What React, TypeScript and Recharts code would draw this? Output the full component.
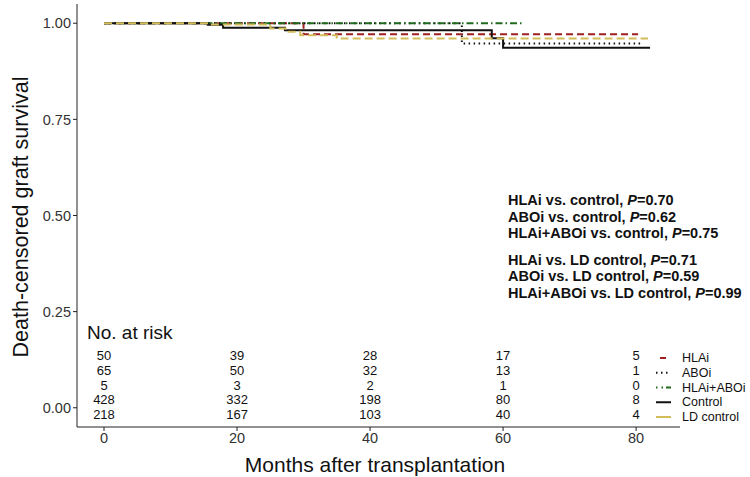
import React from "react";
import { ComposedChart, Line, Scatter, XAxis, YAxis } from "recharts";

// survival curves (months, survival probability)
const hlaiMonths = [0, 30, 80.3];
const hlaiSurv = [1, 0.9715, 0.9715];
const aboiMonths = [0, 53.8, 81];
const aboiSurv = [1, 0.947, 0.947];
const comboMonths = [0, 63];
const comboSurv = [1, 1];
const controlMonths = [0, 15.6, 17.9, 27.2, 58.3, 60, 82.1];
const controlSurv = [1, 0.996, 0.988, 0.982, 0.961, 0.936, 0.936];
const ldMonths = [0, 15.8, 25, 27.3, 29.5, 35, 81.8];
const ldSurv = [1, 0.997, 0.986, 0.978, 0.969, 0.96, 0.96];

// number at risk table
const riskTimes = [0, 20, 40, 60, 80];
const riskHlai = [50, 39, 28, 17, 5];
const riskAboi = [65, 50, 32, 13, 1];
const riskCombo = [5, 3, 2, 1, 0];
const riskControl = [428, 332, 198, 80, 8];
const riskLd = [218, 167, 103, 40, 4];
const riskRowY = [0.135, 0.096, 0.057, 0.021, -0.018];

const yTicks = [0, 0.25, 0.5, 0.75, 1];
const xTicks = [0, 20, 40, 60, 80];

const pValues = [
  ["HLAi vs. control, ", "0.70"],
  ["ABOi vs. control, ", "0.62"],
  ["HLAi+ABOi vs. control, ", "0.75"],
  ["HLAi vs. LD control, ", "0.71"],
  ["ABOi vs. LD control, ", "0.59"],
  ["HLAi+ABOi vs. LD control, ", "0.99"],
];

const series = [
  { name: "HLAi", months: hlaiMonths, surv: hlaiSurv, color: "#9e1f1f", dash: "7 4", key: "0 4 6 10" },
  { name: "ABOi", months: aboiMonths, surv: aboiSurv, color: "#111111", dash: "1.5 3.5", key: "1.5 3.5" },
  { name: "HLAi+ABOi", months: comboMonths, surv: comboSurv, color: "#1e6b1e", dash: "7 3 1.5 3", key: "1.5 4 1.5 3 8 0" },
  { name: "Control", months: controlMonths, surv: controlSurv, color: "#111111", dash: undefined, key: undefined },
  { name: "LD control", months: ldMonths, surv: ldSurv, color: "#d2bd5a", dash: "8 4", key: undefined },
];

const toPoints = (m: number[], s: number[]) => m.map((x, i) => ({ x, y: s[i] }));

const riskRows = [riskHlai, riskAboi, riskCombo, riskControl, riskLd];
const riskData = riskRows.flatMap((row, r) =>
  row.map((n, i) => ({ x: riskTimes[i], y: riskRowY[r], n }))
);

const FONT = "'Liberation Sans', Arial, sans-serif";

const RiskLabel = (props: any) => {
  const { cx, cy, payload } = props;
  return (
    <text x={cx} y={cy} textAnchor="middle" dominantBaseline="central" fontSize={13} fontFamily={FONT} fill="#111">
      {payload.n}
    </text>
  );
};

export default function App() {
  return (
    <div style={{ position: "relative", width: 750, height: 477, background: "#fff", fontFamily: FONT }}>
      <style>{`body{margin:0}`}</style>
      <ComposedChart width={750} height={477} margin={{ top: 4, right: 70, bottom: 0, left: 0 }}>
        <XAxis
          type="number"
          dataKey="x"
          domain={[-4.06, 86.6]}
          ticks={xTicks}
          allowDuplicatedCategory={false}
          height={50}
          tickSize={4}
          tick={{ fontSize: 14.5, fill: "#333", fontFamily: FONT }}
          axisLine={{ stroke: "#222" }}
          tickLine={{ stroke: "#222" }}
        />
        <YAxis
          type="number"
          dataKey="y"
          domain={[-0.05, 1.05]}
          ticks={yTicks}
          width={77}
          tickSize={4}
          tickFormatter={(v: number) => v.toFixed(2)}
          tick={{ fontSize: 14.5, fill: "#333", fontFamily: FONT }}
          axisLine={{ stroke: "#222" }}
          tickLine={{ stroke: "#222" }}
        />
        {series.map((s) => (
          <Line
            key={s.name}
            data={toPoints(s.months, s.surv)}
            dataKey="y"
            type="stepAfter"
            stroke={s.color}
            strokeWidth={2}
            strokeDasharray={s.dash}
            dot={false}
            activeDot={false}
            isAnimationActive={false}
          />
        ))}
        <Scatter data={riskData} dataKey="y" shape={<RiskLabel />} isAnimationActive={false} />
      </ComposedChart>

      {/* y axis title */}
      <div
        style={{
          position: "absolute",
          left: 21,
          top: 217,
          transform: "translate(-50%, -50%) rotate(-90deg)",
          fontSize: 21.5,
          whiteSpace: "nowrap",
          color: "#111",
        }}
      >
        Death-censored graft survival
      </div>
      {/* x axis title */}
      <div
        style={{
          position: "absolute",
          left: 375,
          top: 465,
          transform: "translate(-50%, -50%)",
          fontSize: 21,
          whiteSpace: "nowrap",
          color: "#111",
        }}
      >
        Months after transplantation
      </div>

      <div style={{ position: "absolute", left: 87, top: 322, fontSize: 19, color: "#111", whiteSpace: "nowrap" }}>
        No. at risk
      </div>

      {/* p-values */}
      <div style={{ position: "absolute", left: 508, top: 192, fontSize: 14.5, fontWeight: "bold", lineHeight: "16.5px", color: "#111" }}>
        {pValues.map(([t, p], i) => (
          <div key={i} style={{ whiteSpace: "nowrap", marginTop: i === 3 ? 10 : 0 }}>
            {t}
            <i>P</i>={p}
          </div>
        ))}
      </div>

      {/* legend */}
      <svg style={{ position: "absolute", left: 650, top: 348 }} width={100} height={80}>
        {series.map((s, i) => {
          const y = 10 + i * 14.75;
          return (
            <g key={s.name}>
              <line x1={6} x2={21} y1={y} y2={y} stroke={s.color} strokeWidth={2} strokeDasharray={s.key} />
              <text x={32} y={y} dominantBaseline="central" fontSize={12.5} fontFamily={FONT} fill="#111">
                {s.name}
              </text>
            </g>
          );
        })}
      </svg>
    </div>
  );
}
